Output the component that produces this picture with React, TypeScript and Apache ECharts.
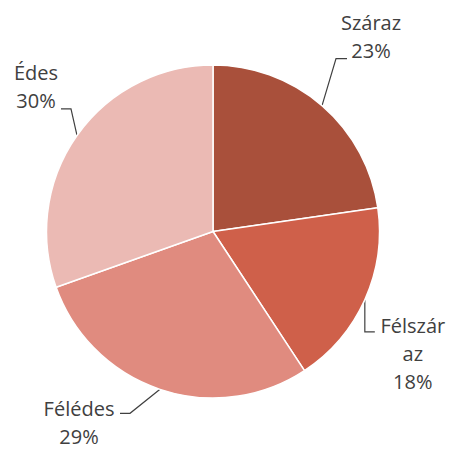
import React, { useEffect, useRef } from 'react';
import * as echarts from 'echarts';

const categories = ['Száraz', 'Félszáraz', 'Félédes', 'Édes'];
const labelNames = ['Száraz', 'Félszár\naz', 'Félédes', 'Édes'];
const values = [22.7, 18.0, 28.8, 30.4];
const colors = ['#A9503B', '#CF604A', '#E08B7F', '#EBBAB4'];

const CX = 213;
const CY = 231.5;
const R = 166.5;

// label centre and leader bends, relative to the slice's outer mid point
const labelOffsets: number[][][] = [
  [[49, -69], [14, -47], [25, -47]],
  [[48, 54], [0, 32], [10, 32]],
  [[-81, 33], [-30, 24], [-40, 24]],
  [[-41, -48.5], [-6, -26.5], [-16, -26.5]],
];

function anchorOf(idx: number): [number, number] {
  const total = values.reduce((a, b) => a + b, 0);
  let cum = 0;
  for (let i = 0; i < idx; i++) cum += values[i];
  const mid = (cum + values[idx] / 2) / total;
  const ang = Math.PI / 2 - mid * Math.PI * 2;
  return [CX + R * Math.cos(ang), CY - R * Math.sin(ang)];
}

export default function App() {
  const ref = useRef<HTMLDivElement>(null);
  useEffect(() => {
    if (!ref.current) return;
    const chart = echarts.init(ref.current, undefined, { renderer: 'svg' });
    chart.setOption({
      animation: false,
      backgroundColor: '#ffffff',
      series: [
        {
          type: 'pie',
          center: [CX, CY],
          radius: R,
          startAngle: 90,
          clockwise: true,
          avoidLabelOverlap: false,
          data: categories.map((c, i) => ({
            name: c,
            value: values[i],
            itemStyle: { color: colors[i] },
          })),
          itemStyle: { borderColor: '#ffffff', borderWidth: 1.5 },
          label: {
            show: true,
            position: 'outside',
            formatter: (p: any) =>
              labelNames[p.dataIndex] + '\n' + Math.round(values[p.dataIndex]) + '%',
            color: '#404040',
            fontSize: 20,
            lineHeight: 28,
            fontFamily: 'Open Sans',
          },
          labelLine: {
            show: true,
            length: 20,
            length2: 10,
            lineStyle: { color: '#404040', width: 1.2 },
          },
          labelLayout: (params: any) => {
            const i = params.dataIndex;
            const [ax, ay] = anchorOf(i);
            const o = labelOffsets[i];
            return {
              x: ax + o[0][0],
              y: ay + o[0][1],
              align: 'center',
              verticalAlign: 'middle',
              labelLinePoints: [
                [ax, ay],
                [ax + o[1][0], ay + o[1][1]],
                [ax + o[2][0], ay + o[2][1]],
              ],
            };
          },
          emphasis: { disabled: true },
        },
      ],
    });
    return () => chart.dispose();
  }, []);
  return (
    <div
      ref={ref}
      style={{ position: 'fixed', left: 0, top: 0, width: 453, height: 453 }}
    />
  );
}
